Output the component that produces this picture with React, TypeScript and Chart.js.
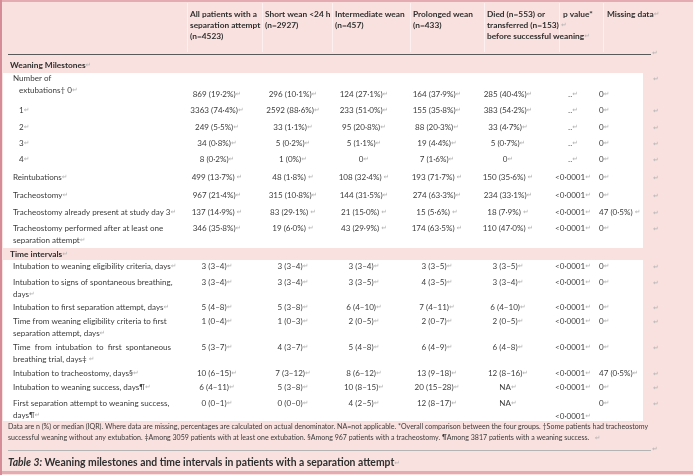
import React, { useEffect, useRef } from "react";
import { Chart, registerables } from "chart.js";

Chart.register(...registerables);

const W = 693;
const H = 475;

// ---------- data ----------
const headerColumns: string[][] = [
  ["All patients with a", "separation attempt", "(n=4523)"],
  ["Short wean <24 h", "(n=2927)"],
  ["Intermediate wean", "(n=457)"],
  ["Prolonged wean", "(n=433)"],
  ["Died (n=553) or", "transferred (n=153) ↵", "before successful weaning↵"],
  ["p value*"],
  ["Missing data↵"],
];

const sectionTitles = ["Weaning Milestones↵", "Time intervals↵"];

const rowLabels: string[][] = [
  ["Number of", "extubations† 0↵"],
  ["1↵"],
  ["2↵"],
  ["3↵"],
  ["4↵"],
  ["Reintubations↵"],
  ["Tracheostomy↵"],
  ["Tracheostomy already present at study day 3↵"],
  ["Tracheostomy performed after at least one", "separation attempt↵"],
  ["Intubation to weaning eligibility criteria, days↵"],
  ["Intubation to signs of spontaneous breathing,", "days↵"],
  ["Intubation to first separation attempt, days↵"],
  ["Time from weaning eligibility criteria to first", "separation attempt, days↵"],
  ["Time from intubation to first spontaneous", "breathing trial, days‡ ↵"],
  ["Intubation to tracheostomy, days§↵"],
  ["Intubation to weaning success, days¶↵"],
  ["First separation attempt to weaning success,", "days¶↵"],
];

const allPatients = ["869 (19·2%)", "3363 (74·4%)", "249 (5·5%)", "34 (0·8%)", "8 (0·2%)", "499 (13·7%) ", "967 (21·4%)", "137 (14·9%) ", "346 (35·8%)", "3 (3–4)", "3 (3–4)", "5 (4–8)", "1 (0–4)", "5 (3–7)", "10 (6–15)", "6 (4–11)", "0 (0–1)"];
const shortWean = ["296 (10·1%)", "2592 (88·6%)", "33 (1·1%)", "5 (0·2%)", "1 (0%)", "48 (1·8%) ", "315 (10·8%)", "83 (29·1%) ", "19 (6·0%) ", "3 (3–4)", "3 (3–4)", "5 (3–8)", "1 (0–3)", "4 (3–7)", "7 (3–12)", "5 (3–8)", "0 (0–0)"];
const intermediateWean = ["124 (27·1%)", "233 (51·0%)", "95 (20·8%)", "5 (1·1%)", "0", "108 (32·4%) ", "144 (31·5%)", "21 (15·0%) ", "43 (29·9%) ", "3 (3–4)", "3 (3–5)", "6 (4–10)", "2 (0–5)", "5 (4–8)", "8 (6–12)", "10 (8–15)", "4 (2–5)"];
const prolongedWean = ["164 (37·9%)", "155 (35·8%)", "88 (20·3%)", "19 (4·4%)", "7 (1·6%)", "193 (71·7%) ", "274 (63·3%)", "15 (5·6%) ", "174 (63·5%) ", "3 (3–5)", "4 (3–5)", "7 (4–11)", "2 (0–7)", "6 (4–9)", "13 (9–18)", "20 (15–28)", "12 (8–17)"];
const diedOrTransferred = ["285 (40·4%)", "383 (54·2%)", "33 (4·7%)", "5 (0·7%)", "0", "150 (35·6%) ", "234 (33·1%)", "18 (7·9%) ", "110 (47·0%) ", "3 (3–5)", "3 (3–4)", "6 (4–10)", "2 (0–5)", "6 (4–8)", "12 (8–16)", "NA", "NA"];
const pValues = ["‥", "‥", "‥", "‥", "‥", "<0·0001", "<0·0001", "<0·0001", "<0·0001", "<0·0001", "<0·0001", "<0·0001", "<0·0001", "<0·0001", "<0·0001", "<0·0001", "<0·0001"];
const missingData = ["0", "0", "0", "0", "0", "0", "0", "47 (0·5%) ", "0", "0", "0", "0", "0", "0", "47 (0·5%)", "0", "0"];

const footnoteLines = [
  "Data are n (%) or median (IQR). Where data are missing, percentages are calculated on actual denominator. NA=not applicable. *Overall comparison between the four groups. †Some patients had tracheostomy",
  "successful weaning without any extubation. ‡Among 3059 patients with at least one extubation. §Among 967 patients with a tracheostomy. ¶Among 3817 patients with a weaning success.   ↵",
];
const captionLabel = "Table 3:";
const captionText = " Weaning milestones and time intervals in patients with a separation attempt";

// ---------- layout (in scale units) ----------
const headerX = [190, 265, 335, 413, 487, 563, 607];
const headerY = [14, 25, 36];
const colAnchor = [217, 293, 364, 437, 508, 573, 599];
const colAlign: CanvasTextAlign[] = ["center", "center", "center", "center", "center", "center", "left"];
const rowLabelY = [78, 110, 127, 143, 159, 177, 195, 212, 228, 266, 282, 307, 321, 347, 373, 387, 403];
const rowValueY = [94, 110, 127, 143, 159, 177, 195, 212, 228, 266, 282, 307, 321, 347, 373, 387, 403];
const rowIndent = [1, 1, 1, 1, 1, 0, 0, 0, 0, 0, 0, 0, 0, 0, 0, 0, 0];
const justifyFirstLine = [13];
const pShiftDown = [16];
const sectionY = [65, 254];
const whiteBands = [[73, 248], [260, 421]];
const footY = [427, 438];
const sepY = [54, 450];
const captionY = [463];
const gridX = [187, 262, 332, 410, 484, 559, 603];

const PINK = "rgb(248,225,222)";
const BORDER = "rgb(228,172,178)";
const TEXT = "#3b3b3b";
const ARROW = "#b4b4b4";
const FAMILY = "Lato, 'Open Sans', sans-serif";

function fitSize(ctx: CanvasRenderingContext2D, weight: string, text: string, target: number) {
  ctx.font = `${weight} 20px ${FAMILY}`;
  return (20 * target) / ctx.measureText(text).width;
}

function drawRich(ctx: CanvasRenderingContext2D, text: string, x: number, y: number, align: CanvasTextAlign, font: string, color: string, arrowFont: string) {
  const parts: { t: string; a: boolean }[] = [];
  const pieces = text.split("↵");
  pieces.forEach((p, i) => {
    if (p) parts.push({ t: p, a: false });
    if (i < pieces.length - 1) parts.push({ t: "↵", a: true });
  });
  const widths = parts.map((p) => {
    ctx.font = p.a ? arrowFont : font;
    return ctx.measureText(p.t).width;
  });
  const total = widths.reduce((s, w) => s + w, 0);
  let cx = align === "center" ? x - total / 2 : align === "right" ? x - total : x;
  ctx.textAlign = "left";
  ctx.textBaseline = "middle";
  parts.forEach((p, i) => {
    ctx.font = p.a ? arrowFont : font;
    ctx.fillStyle = p.a ? ARROW : color;
    ctx.fillText(p.t, cx, y);
    cx += widths[i];
  });
}

const tablePlugin = {
  id: "tablePlugin",
  beforeDraw(chart: any) {
    const ctx: CanvasRenderingContext2D = chart.ctx;
    const xs = chart.scales.x;
    const ys = chart.scales.y;
    const X = (v: number) => xs.getPixelForValue(v);
    const Y = (v: number) => ys.getPixelForValue(v);

    const bodySize = fitSize(ctx, "normal", "Intubation to weaning eligibility criteria, days", 158);
    const headSize = fitSize(ctx, "bold", "All patients with a", 67);
    const footSize = fitSize(ctx, "normal", footnoteLines[0], 641);
    const capSize = fitSize(ctx, "bold", captionLabel + captionText, 388);
    const body = `normal ${bodySize}px ${FAMILY}`;
    const bold = `bold ${headSize}px ${FAMILY}`;
    const arrowFont = `normal ${bodySize * 0.85}px 'DejaVu Sans'`;

    ctx.save();
    // background
    ctx.fillStyle = PINK;
    ctx.fillRect(X(0), Y(0), X(W) - X(0), Y(H) - Y(0));
    // borders
    ctx.fillStyle = BORDER;
    ctx.fillRect(X(0), Y(0), X(W) - X(0), 2);
    ctx.fillRect(X(0), Y(471), X(W) - X(0), 3);
    ctx.fillStyle = "rgb(214,140,150)";
    ctx.fillRect(X(0), Y(0), 2, Y(H) - Y(0));

    // faint header grid
    ctx.fillStyle = "rgba(255,255,255,0.55)";
    gridX.forEach((gx) => ctx.fillRect(X(gx), Y(3), 1, Y(52) - Y(3)));

    // white bands
    ctx.fillStyle = "#ffffff";
    whiteBands.forEach(([a, b]) => ctx.fillRect(X(3), Y(a), X(643) - X(3), Y(b) - Y(a)));

    // separators
    ctx.fillStyle = "#5a5a5a";
    sepY.forEach((sy) => {
      ctx.fillRect(X(8), Y(sy), X(651) - X(8), 1);
      drawRich(ctx, "↵", X(652), Y(sy - 1), "left", body, TEXT, arrowFont);
    });

    // header
    headerColumns.forEach((lines, c) => {
      lines.forEach((ln, i) => drawRich(ctx, ln, X(headerX[c]), Y(headerY[i]), "left", bold, "#2f2f2f", arrowFont));
    });

    // section titles
    sectionTitles.forEach((t, i) => drawRich(ctx, t, X(10), Y(sectionY[i]), "left", bold, "#2f2f2f", arrowFont));

    // rows
    const columns = [allPatients, shortWean, intermediateWean, prolongedWean, diedOrTransferred, pValues, missingData];
    rowLabels.forEach((lines, r) => {
      lines.forEach((ln, i) => {
        const lx = i === 0 && r === 0 ? 13 : rowIndent[r] ? 19 : 13;
        const ly = rowLabelY[r] + i * 12;
        if (i === 0 && lines.length > 1 && justifyFirstLine.includes(r)) {
          const words = ln.split(" ");
          ctx.font = body;
          const wsum = words.reduce((s, w) => s + ctx.measureText(w).width, 0);
          const gap = (X(171) - X(lx) - wsum) / (words.length - 1);
          let cx = X(lx);
          ctx.fillStyle = TEXT;
          ctx.textAlign = "left";
          ctx.textBaseline = "middle";
          words.forEach((w) => {
            ctx.fillText(w, cx, Y(ly));
            cx += ctx.measureText(w).width + gap;
          });
        } else {
          drawRich(ctx, ln, X(lx), Y(ly), "left", body, TEXT, arrowFont);
        }
      });
      columns.forEach((col, c) => {
        let vy = rowValueY[r];
        if (c === 5 && pShiftDown.includes(r)) vy += 13;
        drawRich(ctx, col[r] + "↵", X(colAnchor[c]), Y(vy), colAlign[c], body, TEXT, arrowFont);
      });
      // end of row marker
      drawRich(ctx, "↵", X(653), Y(r === 0 ? rowLabelY[r] + 1 : rowValueY[r] + 1), "left", body, TEXT, arrowFont);
    });

    // footnote
    const foot = `normal ${footSize}px ${FAMILY}`;
    footnoteLines.forEach((ln, i) => drawRich(ctx, ln, X(8), Y(footY[i]), "left", foot, TEXT, arrowFont));

    // caption
    ctx.textBaseline = "middle";
    ctx.textAlign = "left";
    ctx.fillStyle = "#2f2f2f";
    ctx.font = `italic bold ${capSize}px ${FAMILY}`;
    ctx.fillText(captionLabel, X(8), Y(captionY[0]));
    const lw = ctx.measureText(captionLabel).width;
    drawRich(ctx, captionText + "↵", X(8) + lw, Y(captionY[0]), "left", `bold ${capSize}px ${FAMILY}`, "#2f2f2f", arrowFont);
    ctx.restore();
  },
};

export default function App() {
  const ref = useRef<HTMLCanvasElement>(null);
  useEffect(() => {
    const chart = new Chart(ref.current as HTMLCanvasElement, {
      type: "scatter",
      data: { datasets: [{ data: [], pointRadius: 0 }] },
      options: {
        animation: false,
        responsive: false,
        devicePixelRatio: 1,
        events: [],
        layout: { padding: 0 },
        plugins: { legend: { display: false }, tooltip: { enabled: false } },
        scales: {
          x: { type: "linear", min: 0, max: W, display: false },
          y: { type: "linear", min: 0, max: H, reverse: true, display: false },
        },
      },
      plugins: [tablePlugin],
    } as any);
    return () => chart.destroy();
  }, []);
  return (
    <div style={{ position: "fixed", left: 0, top: 0, width: W, height: H }}>
      <canvas ref={ref} width={W} height={H} style={{ display: "block", width: W, height: H }} />
    </div>
  );
}
